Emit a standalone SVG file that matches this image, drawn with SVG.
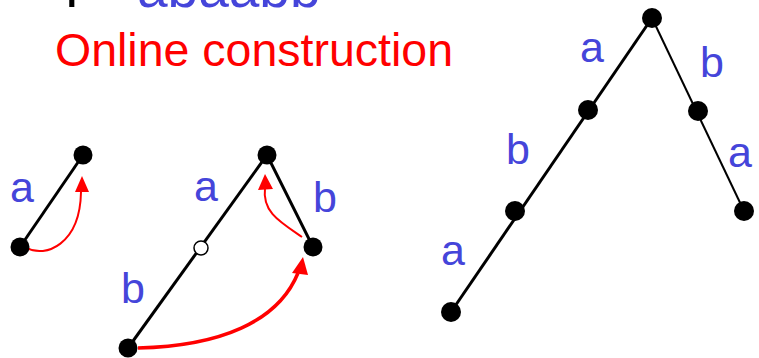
<svg xmlns="http://www.w3.org/2000/svg" width="759" height="358" viewBox="0 0 759 358">
<style>
.lbl{font-family:"Liberation Sans",Arial,sans-serif;font-size:43px;fill:#4545DA}
.title{font-family:"Liberation Sans",Arial,sans-serif;font-size:46.5px}
.node{fill:#000}
.edge{stroke:#000;stroke-width:3;fill:none}
.thin{stroke:#000;stroke-width:2;fill:none}
.red{stroke:#FF0000;stroke-width:2;fill:none}
.redthick{stroke:#FF0000;stroke-width:3.5;fill:none}
</style>
<rect width="759" height="358" fill="#fff"/>
<text class="title" x="55" y="7" style="font-size:55px"><tspan fill="#000">T</tspan><tspan x="137" fill="#4545DA">abaabb</tspan></text>
<text class="title" x="55" y="66" fill="#FF0000">Online construction</text>
<g id="connectors">
<line class="edge" x1="20" y1="247" x2="83" y2="155"/>
<line class="edge" x1="128" y1="348" x2="267" y2="155"/>
<line class="edge" x1="267" y1="155" x2="313" y2="247"/>
<line class="edge" x1="652" y1="18" x2="451" y2="312"/>
<line class="thin" x1="652" y1="18" x2="744" y2="211"/>
<path class="red" d="M27,248 C45,258 80,245 81,192"/>
<polygon points="82,176 75,192 89,192" fill="#FF0000"/>
<path class="red" d="M302,237 C280,222 262,212 265,188"/>
<polygon points="265,174 258,190 273,189" fill="#FF0000"/>
<path class="redthick" d="M138,348 C220,346 278,322 298,273"/>
<polygon points="303,257 292,273 308,275" fill="#FF0000"/>
</g>
<g id="n1"><circle class="node" cx="83" cy="155" r="9.5"/></g>
<g id="n2"><circle class="node" cx="20" cy="247" r="9.5"/></g>
<g id="n3"><circle class="node" cx="267" cy="155" r="9.5"/></g>
<g id="n4"><circle class="node" cx="313" cy="247" r="9.5"/></g>
<g id="n5"><circle cx="201" cy="248" r="7" fill="#fff" stroke="#000" stroke-width="1.5"/></g>
<g id="n6"><circle class="node" cx="128" cy="348" r="9.5"/></g>
<g id="n7"><circle class="node" cx="652" cy="18" r="10"/></g>
<g id="n8"><circle class="node" cx="588" cy="110" r="10"/></g>
<g id="n9"><circle class="node" cx="515" cy="211" r="10"/></g>
<g id="n10"><circle class="node" cx="451" cy="312" r="10"/></g>
<g id="n11"><circle class="node" cx="698" cy="111" r="10"/></g>
<g id="n12"><circle class="node" cx="744" cy="211" r="10"/></g>
<g id="labels">
<text class="lbl" x="10" y="202">a</text>
<text class="lbl" x="194" y="201">a</text>
<text class="lbl" x="313" y="212">b</text>
<text class="lbl" x="121" y="303">b</text>
<text class="lbl" x="580" y="62">a</text>
<text class="lbl" x="700" y="77">b</text>
<text class="lbl" x="506" y="164">b</text>
<text class="lbl" x="728" y="167">a</text>
<text class="lbl" x="441" y="265">a</text>
</g>
</svg>
